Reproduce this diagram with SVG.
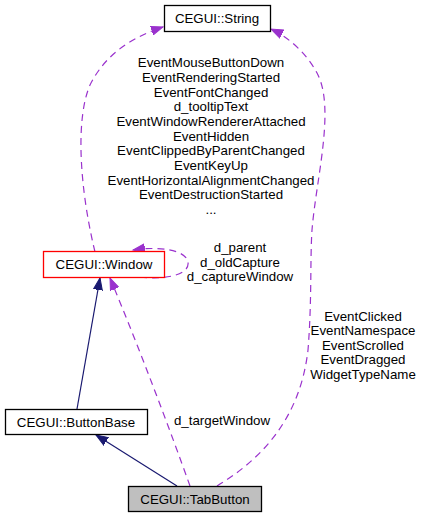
<svg xmlns="http://www.w3.org/2000/svg" width="421" height="517" viewBox="0 0 421 517">
<style>
text{font-family:"Liberation Sans",Arial,sans-serif;font-size:13.3px;fill:#000;text-anchor:middle}
.box{fill:#fff;stroke:#000;stroke-width:1.3}
.inh{fill:none;stroke:#191970;stroke-width:1.2}
.use{fill:none;stroke:#9a32cd;stroke-width:1.2;stroke-dasharray:7,5}
</style>
<defs>
<marker id="an" markerUnits="userSpaceOnUse" markerWidth="14" markerHeight="10" refX="12" refY="5" orient="auto"><path d="M0,0.5 L12,5 L0,9.5 Z" fill="#191970" stroke="#191970"/></marker>
<marker id="ap" markerUnits="userSpaceOnUse" markerWidth="14" markerHeight="10" refX="12" refY="5" orient="auto"><path d="M0,0.5 L12,5 L0,9.5 Z" fill="#9a32cd" stroke="#9a32cd"/></marker>
</defs>
<rect width="421" height="517" fill="#fff"/>
<g id="connectors">
<path class="use" d="M95,252 C80,190 75,120 90,85 C105,55 130,38 163,27" marker-end="url(#ap)"/>
<path class="use" d="M217,486 C260,460 300,420 308,350 C312,300 310,260 312,230 C316,180 335,110 318,75 C308,55 290,38 271,29" marker-end="url(#ap)"/>
<path class="use" d="M140,277 C165,280 190,275 188,262 C186,250 160,246 133,250" marker-end="url(#ap)"/>
<path class="inh" d="M77,409 L100,278" marker-end="url(#an)"/>
<path class="inh" d="M177,486 L96,435" marker-end="url(#an)"/>
<path class="use" d="M190,486 C170,430 140,350 110,278" marker-end="url(#ap)"/>
</g>
<g id="labels">
<text x="211" y="67">EventMouseButtonDown</text>
<text x="211" y="82">EventRenderingStarted</text>
<text x="211" y="97">EventFontChanged</text>
<text x="211" y="111">d_tooltipText</text>
<text x="211" y="126">EventWindowRendererAttached</text>
<text x="211" y="141">EventHidden</text>
<text x="211" y="155">EventClippedByParentChanged</text>
<text x="211" y="170">EventKeyUp</text>
<text x="211" y="185">EventHorizontalAlignmentChanged</text>
<text x="211" y="199">EventDestructionStarted</text>
<text x="211" y="214">...</text>
<text x="240" y="252">d_parent</text>
<text x="240" y="267">d_oldCapture</text>
<text x="240" y="281">d_captureWindow</text>
<text x="363" y="321">EventClicked</text>
<text x="363" y="335">EventNamespace</text>
<text x="363" y="350">EventScrolled</text>
<text x="363" y="364">EventDragged</text>
<text x="363" y="379">WidgetTypeName</text>
<text x="222" y="425">d_targetWindow</text>
</g>
<g id="node-string">
<rect class="box" x="164.5" y="5.5" width="106" height="26"/>
<text x="217" y="23">CEGUI::String</text>
</g>
<g id="node-window">
<rect class="box" x="43.5" y="251.5" width="121" height="26" style="stroke:#ff0000"/>
<text x="104" y="269">CEGUI::Window</text>
</g>
<g id="node-buttonbase">
<rect class="box" x="5.5" y="409.5" width="142" height="25"/>
<text x="76" y="427">CEGUI::ButtonBase</text>
</g>
<g id="node-tabbutton">
<rect class="box" x="128.5" y="486.5" width="133" height="25" style="fill:#bfbfbf"/>
<text x="195" y="504">CEGUI::TabButton</text>
</g>
</svg>
